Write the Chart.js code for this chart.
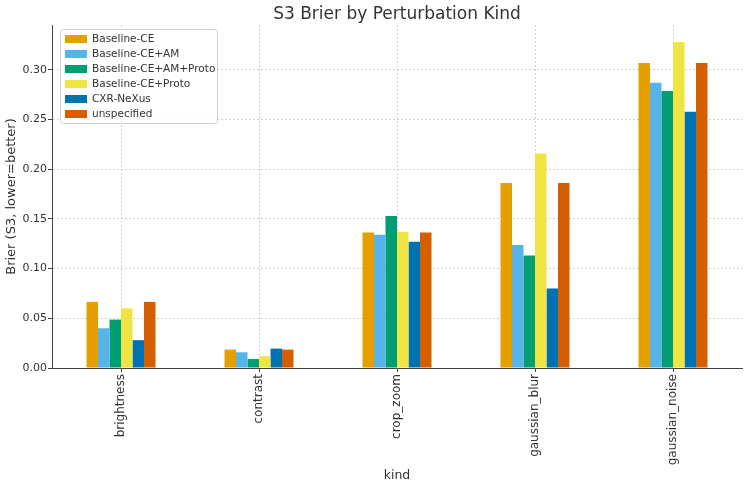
<!DOCTYPE html>
<html>
<head>
<meta charset="utf-8">
<script src="https://cdn.jsdelivr.net/npm/chart.js@4/dist/chart.umd.min.js"></script>
<style>
  html, body { margin: 0; padding: 0; background: #fff; }
  #wrap { width: 750px; height: 489px; }
</style>
</head>
<body>
<div id="wrap"><canvas id="myChart" width="750" height="489"></canvas></div>
<script>
const kinds = ['brightness', 'contrast', 'crop_zoom', 'gaussian_blur', 'gaussian_noise']
const seriesNames = ['Baseline-CE', 'Baseline-CE+AM', 'Baseline-CE+AM+Proto', 'Baseline-CE+Proto', 'CXR-NeXus', 'unspecified']
const baselineCE = [0.0665, 0.0185, 0.1364, 0.1862, 0.3067]
const baselineCEAM = [0.040, 0.0158, 0.134, 0.1237, 0.287]
const baselineCEAMProto = [0.0487, 0.009, 0.1529, 0.1132, 0.2785]
const baselineCEProto = [0.060, 0.0118, 0.137, 0.2157, 0.328]
const cxrNexus = [0.028, 0.0195, 0.127, 0.080, 0.2577]
const unspecified = [0.0665, 0.0185, 0.1364, 0.1862, 0.3067]
const yTicks = [0, 0.05, 0.10, 0.15, 0.20, 0.25, 0.30]
const chartTitle = 'S3 Brier by Perturbation Kind'

const colors = ['#E69F00', '#56B4E9', '#009E73', '#F0E442', '#0072B2', '#D55E00']
const values = [baselineCE, baselineCEAM, baselineCEAMProto, baselineCEProto, cxrNexus, unspecified]
const FONT = "'DejaVu Sans', sans-serif"

// title centred over the plot area (matplotlib style), legend inside top-left
const plotDecor = {
    id: 'plotDecor',
    afterDraw(chart) {
        const ctx = chart.ctx
        const area = chart.chartArea
        ctx.save()
        ctx.fillStyle = '#333'
        ctx.font = '17px ' + FONT
        ctx.textAlign = 'center'
        ctx.textBaseline = 'middle'
        ctx.fillText(chartTitle, (area.left + area.right) / 2, 15)

        const x0 = area.left + 8, y0 = area.top + 4
        const w = 157, h = 94
        ctx.fillStyle = 'rgba(255,255,255,0.85)'
        ctx.strokeStyle = '#d0d0d0'
        ctx.lineWidth = 1
        ctx.beginPath()
        ctx.roundRect(x0 + 0.5, y0 + 0.5, w, h, 3)
        ctx.fill()
        ctx.stroke()
        ctx.font = '10.5px ' + FONT
        ctx.textAlign = 'left'
        chart.data.datasets.forEach((ds, i) => {
            const cy = y0 + 10 + i * 15
            ctx.fillStyle = ds.backgroundColor
            ctx.fillRect(x0 + 5, cy - 4, 22, 8)
            ctx.fillStyle = '#333'
            ctx.fillText(ds.label, x0 + 32, cy + 0.5)
        })
        ctx.restore()
    }
}

const ctx = document.getElementById('myChart')
new Chart(ctx, {
    type: 'bar',
    data: {
        labels: kinds,
        datasets: seriesNames.map((name, i) => ({
            label: name,
            data: values[i],
            backgroundColor: colors[i],
            borderWidth: 0,
            categoryPercentage: 0.5,
            barPercentage: 1.0
        }))
    },
    options: {
        responsive: false,
        animation: false,
        layout: { padding: { left: 0, right: 8, top: 25, bottom: 0 } },
        plugins: {
            legend: { display: false },
            tooltip: { enabled: false },
            title: { display: false }
        },
        scales: {
            x: {
                afterFit: s => { s.height = 121 },
                grid: {
                    offset: false,
                    color: '#d2d2d2',
                    tickLength: 4,
                    tickColor: '#444'
                },
                border: { display: true, color: '#444', width: 1, dash: [2, 2] },
                ticks: {
                    color: '#333',
                    font: { family: FONT, size: 12 },
                    minRotation: 90,
                    maxRotation: 90,
                    padding: 2
                },
                title: {
                    display: true,
                    text: 'kind',
                    color: '#333',
                    font: { family: FONT, size: 12.5 },
                    padding: { top: 0, bottom: 6 }
                }
            },
            y: {
                min: 0,
                max: 0.345,
                afterFit: s => { s.width = 52 },
                afterBuildTicks: s => { s.ticks = yTicks.map(v => ({ value: v })) },
                grid: {
                    color: '#d2d2d2',
                    tickLength: 4,
                    tickColor: '#444'
                },
                border: { display: true, color: '#444', width: 1, dash: [2, 2] },
                ticks: {
                    color: '#333',
                    font: { family: FONT, size: 11 },
                    padding: 1,
                    callback: v => v.toFixed(2)
                },
                title: {
                    display: true,
                    text: 'Brier (S3, lower=better)',
                    color: '#333',
                    font: { family: FONT, size: 13 },
                    padding: { top: 4, bottom: 2 }
                }
            }
        }
    },
    plugins: [plotDecor]
})
</script>
</body>
</html>
